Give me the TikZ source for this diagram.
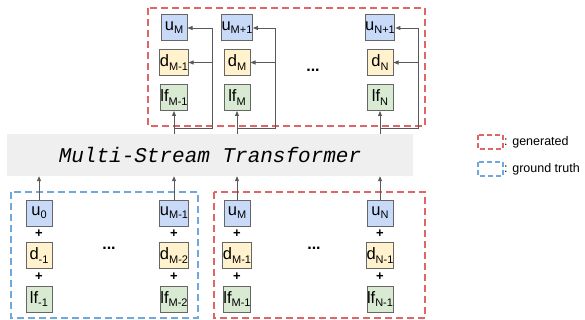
\documentclass[tikz,border=0pt]{standalone}
\usepackage{fontspec}
\setmainfont{Liberation Sans}
\newfontfamily\tfmfont{Liberation Mono}
\usetikzlibrary{arrows.meta}

\newlength{\du}
\setlength{\du}{1pt}

\definecolor{ublue}{HTML}{C9DAF8}
\definecolor{dyellow}{HTML}{FFF2CC}
\definecolor{lfgreen}{HTML}{D9EAD3}
\definecolor{boxline}{HTML}{666666}
\definecolor{genred}{HTML}{E06666}
\definecolor{gtblue}{HTML}{6FA8DC}
\definecolor{arrowgray}{HTML}{595959}
\definecolor{tfmgray}{HTML}{EFEFEF}

% token label: big letter, small lowered index
\newcommand{\tok}[2]{{\fontsize{16.5}{16.5}\selectfont #1}\raisebox{-3.2pt}{\fontsize{11}{11}\selectfont #2}}

\tikzset{
  tokbox/.style={draw=boxline, line width=1\du, minimum size=26\du, inner sep=0pt},
  ubox/.style={tokbox, fill=ublue},
  dbox/.style={tokbox, fill=dyellow},
  lfbox/.style={tokbox, fill=lfgreen},
  feed/.style={draw=arrowgray, line width=0.9\du, -{Triangle[length=5pt,width=4pt]}},
  genframe/.style={draw=genred, line width=1.6\du, dash pattern=on 7\du off 4\du},
  gtframe/.style={draw=gtblue, line width=1.6\du, dash pattern=on 7\du off 4\du},
  plus/.style={inner sep=0pt, font=\bfseries\fontsize{13}{13}\selectfont},
  skip/.style={inner sep=0pt, font=\bfseries\fontsize{16}{16}\selectfont},
  legend/.style={anchor=west, inner sep=0pt, font=\fontsize{12.5}{12.5}\selectfont},
}

\begin{document}
\begin{tikzpicture}
\pgftransformxscale{1.000000}
\pgftransformyscale{-1.000000}
\useasboundingbox (0\du,0\du) rectangle (585\du,320\du);

% transformer
\node[fill=tfmgray, minimum width=406\du, minimum height=42\du, inner sep=0pt,
      font=\tfmfont\itshape\fontsize{21}{21}\selectfont] (tfm) at (210\du,155\du) {Multi-Stream Transformer};

% generated (top)
\draw[genframe] (148\du,8\du) rectangle (425\du,126\du);

\node[ubox] (uMout) at (174\du,28\du) {\tok{u}{M}};
\node[dbox] (dMm1out) at (174\du,62.5\du) {\tok{d}{M-1}};
\node[lfbox] (lfMm1out) at (174\du,97.5\du) {\tok{lf}{M-1}};
\coordinate (brA) at (174\du,128\du);
\coordinate (brAr) at (212\du,128\du);
\draw[feed] (tfm.north -| lfMm1out) -- (lfMm1out);
\draw[feed] (brA) -- (brAr) |- (uMout.east);
\draw[feed] (brAr |- dMm1out) -- (dMm1out.east);

\node[ubox] (uMp1out) at (237\du,28\du) {\tok{u}{M+1}};
\node[dbox] (dMout) at (237\du,62.5\du) {\tok{d}{M}};
\node[lfbox] (lfMout) at (237\du,97.5\du) {\tok{lf}{M}};
\coordinate (brB) at (237\du,128\du);
\coordinate (brBr) at (275\du,128\du);
\draw[feed] (tfm.north -| lfMout) -- (lfMout);
\draw[feed] (brB) -- (brBr) |- (uMp1out.east);
\draw[feed] (brBr |- dMout) -- (dMout.east);

\node[skip] (dotsout) at (313\du,70\du) {...};

\node[ubox] (uNp1out) at (380\du,28\du) {\tok{u}{N+1}};
\node[dbox] (dNout) at (380\du,62.5\du) {\tok{d}{N}};
\node[lfbox] (lfNout) at (380\du,97.5\du) {\tok{lf}{N}};
\coordinate (brC) at (380\du,128\du);
\coordinate (brCr) at (418\du,128\du);
\draw[feed] (tfm.north -| lfNout) -- (lfNout);
\draw[feed] (brC) -- (brCr) |- (uNp1out.east);
\draw[feed] (brCr |- dNout) -- (dNout.east);

% ground truth (bottom left)
\draw[gtframe] (11\du,192\du) rectangle (198\du,318\du);

\node[ubox] (u0) at (39\du,213\du) {\tok{u}{0}};
\node[plus] (p0a) at (39\du,234\du) {+};
\node[dbox] (dm1) at (39\du,255.5\du) {\tok{d}{-1}};
\node[plus] (p0b) at (39\du,277\du) {+};
\node[lfbox] (lfm1) at (39\du,299\du) {\tok{lf}{-1}};
\draw[feed] (u0) -- (u0 |- tfm.south);

\node[skip] (dotsgt) at (109\du,248\du) {...};

\node[ubox] (uMm1) at (174\du,213\du) {\tok{u}{M-1}};
\node[plus] (pMa) at (174\du,234\du) {+};
\node[dbox] (dMm2) at (174\du,255.5\du) {\tok{d}{M-2}};
\node[plus] (pMb) at (174\du,277\du) {+};
\node[lfbox] (lfMm2) at (174\du,299\du) {\tok{lf}{M-2}};
\draw[feed] (uMm1) -- (uMm1 |- tfm.south);

% generated (bottom right)
\draw[genframe] (214\du,192\du) rectangle (425\du,318\du);

\node[ubox] (uMin) at (237\du,213\du) {\tok{u}{M}};
\node[plus] (pNa) at (237\du,234\du) {+};
\node[dbox] (dMm1in) at (237\du,255.5\du) {\tok{d}{M-1}};
\node[plus] (pNb) at (237\du,277\du) {+};
\node[lfbox] (lfMm1in) at (237\du,299\du) {\tok{lf}{M-1}};
\draw[feed] (uMin) -- (uMin |- tfm.south);

\node[skip] (dotsin) at (314\du,248\du) {...};

\node[ubox] (uNin) at (380\du,213\du) {\tok{u}{N}};
\node[plus] (pOa) at (380\du,234\du) {+};
\node[dbox] (dNm1in) at (380\du,255.5\du) {\tok{d}{N-1}};
\node[plus] (pOb) at (380\du,277\du) {+};
\node[lfbox] (lfNm1in) at (380\du,299\du) {\tok{lf}{N-1}};
\draw[feed] (uNin) -- (uNin |- tfm.south);

% legend
\draw[genframe, line width=1.3\du, dash pattern=on 5\du off 3\du] (478\du,135\du) rectangle (503\du,149\du);
\node[legend] (genlbl) at (504\du,142\du) {: generated};
\draw[gtframe, line width=1.3\du, dash pattern=on 5\du off 3\du] (478\du,162\du) rectangle (503\du,176\du);
\node[legend] (gtlbl) at (504\du,169\du) {: ground truth};
\end{tikzpicture}
\end{document}
